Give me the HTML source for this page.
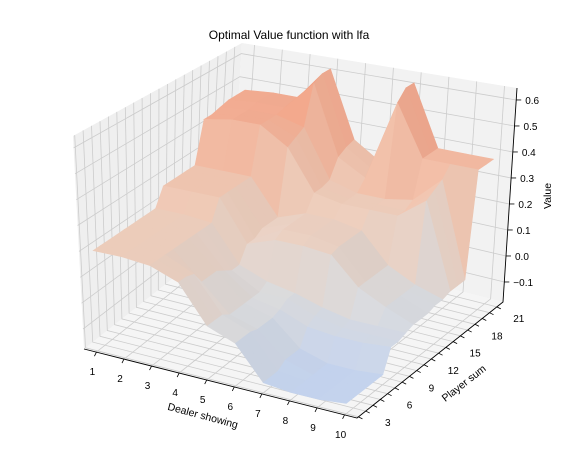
<!DOCTYPE html>
<html><head><meta charset="utf-8"><style>
body{margin:0;background:#fff;}
svg{display:block;font-family:"Liberation Sans","DejaVu Sans",sans-serif;}
</style></head><body>
<svg id="chart" width="579" height="456" viewBox="0 0 579 456" xmlns="http://www.w3.org/2000/svg">
<text x="289" y="39" text-anchor="middle" font-size="12">Optimal Value function with lfa</text>
<g id="panes"></g>
<g id="surface"></g>
<g id="axes"></g>
<text x="202" y="419" text-anchor="middle" font-size="10.5" transform="rotate(15 202 419)">Dealer showing</text>
<text x="466" y="386" text-anchor="middle" font-size="10.5" transform="rotate(-38 466 386)">Player sum</text>
<text x="551" y="196" text-anchor="middle" font-size="10.5" transform="rotate(-90 551 196)">Value</text>
</svg>
<script>
const dealerValues = [1,2,3,4,5,6,7,8,9,10];
const playerValues = [2,3,4,5,6,7,8,9,10,11,12,13,14,15,16,17,18,19,20,21];
const dealerTicks = [1,2,3,4,5,6,7,8,9,10];
const playerTicks = [3,6,9,12,15,18,21];
const zTicks = [-0.1,0.0,0.1,0.2,0.3,0.4,0.5,0.6];
const valueGrid = [
[0.21,0.21,0.20,0.16,0.02,-0.02,-0.14,-0.15,-0.15,-0.14],
[0.21,0.21,0.20,0.16,0.02,-0.02,-0.14,-0.15,-0.15,-0.14],
[0.21,0.21,0.20,0.15,0.02,-0.02,-0.14,-0.15,-0.15,-0.14],
[0.21,0.21,0.20,0.10,0.00,-0.03,-0.12,-0.15,-0.15,-0.14],
[0.21,0.21,0.20,0.10,0.00,-0.03,-0.12,-0.15,-0.15,-0.14],
[0.21,0.21,0.20,0.10,0.00,-0.03,-0.12,-0.15,-0.15,-0.14],
[0.21,0.21,0.20,0.08,0.00,-0.02,-0.06,-0.07,-0.07,-0.06],
[0.21,0.21,0.20,0.06,0.00,0.00,-0.04,-0.06,-0.06,-0.06],
[0.21,0.21,0.20,0.06,0.02,0.00,-0.03,-0.05,-0.05,-0.05],
[0.28,0.28,0.28,0.12,0.16,0.16,0.15,0.05,0.00,-0.04],
[0.28,0.28,0.28,0.12,0.18,0.18,0.16,0.05,0.00,-0.04],
[0.28,0.28,0.28,0.14,0.18,0.18,0.16,0.05,0.00,-0.04],
[0.28,0.28,0.28,0.14,0.18,0.18,0.16,0.05,0.00,-0.03],
[0.28,0.28,0.28,0.14,0.18,0.18,0.16,0.05,0.00,-0.03],
[0.45,0.47,0.47,0.40,0.24,0.22,0.22,0.22,0.30,-0.02],
[0.45,0.47,0.47,0.42,0.24,0.22,0.22,0.22,0.32,-0.02],
[0.46,0.47,0.47,0.44,0.25,0.22,0.22,0.24,0.34,-0.02],
[0.47,0.48,0.48,0.60,0.32,0.26,0.58,0.38,0.38,0.38],
[0.47,0.48,0.48,0.62,0.34,0.27,0.62,0.38,0.38,0.38],
[0.47,0.48,0.48,0.62,0.35,0.28,0.62,0.38,0.38,0.38]
];

const NS="http://www.w3.org/2000/svg";
const X0=0.55,X1=10.45,Y0=1.8,Y1=21.85,Z0=-0.177,Z1=0.646;
const C={b00:[84,349],b10:[357,418],b11:[503,302],b01:[230,233],t00:[73,136],t10:[362,188],t11:[517,88],t01:[242,43]};
function lerp(a,b,t){return [a[0]+(b[0]-a[0])*t,a[1]+(b[1]-a[1])*t];}
function projN(u,v,w){
  const b=lerp(lerp(C.b00,C.b10,u),lerp(C.b01,C.b11,u),v);
  const t=lerp(lerp(C.t00,C.t10,u),lerp(C.t01,C.t11,u),v);
  return lerp(b,t,w);
}
function xs(d){return (d-X0)/(X1-X0);}
function ys(p){return (p-Y0)/(Y1-Y0);}
function zs(z){return (z-Z0)/(Z1-Z0);}
function mk(tag,attrs,parent){const e=document.createElementNS(NS,tag);for(const k in attrs)e.setAttribute(k,attrs[k]);parent.appendChild(e);return e;}
function pts(a){return a.map(q=>q[0].toFixed(1)+","+q[1].toFixed(1)).join(" ");}

const panes=document.getElementById('panes');
let el;
el=mk('polygon',{points:pts([projN(0,0,0),projN(1,0,0),projN(1,1,0),projN(0,1,0)]),fill:'#f5f5f5'},panes);

el=mk('polygon',{points:pts([projN(0,0,0),projN(0,1,0),projN(0,1,1),projN(0,0,1)]),fill:'#efefef'},panes);

el=mk('polygon',{points:pts([projN(0,1,0),projN(1,1,0),projN(1,1,1),projN(0,1,1)]),fill:'#f2f2f2'},panes);

const gs={stroke:'#cccccc','stroke-width':0.8};
for(const d of dealerTicks){
  const u=xs(d);
  el=mk('polyline',Object.assign({points:pts([projN(u,0,0),projN(u,1,0),projN(u,1,1)]),fill:'none'},gs),panes);
  
}
for(let p=2;p<=21;p++){
  const v=ys(p);
  el=mk('polyline',Object.assign({points:pts([projN(1,v,0),projN(0,v,0),projN(0,v,1)]),fill:'none'},gs),panes);
  
}
for(const z of zTicks){
  const w=zs(z);
  el=mk('polyline',Object.assign({points:pts([projN(0,0,w),projN(0,1,w),projN(1,1,w)]),fill:'none'},gs),panes);
  
}

function cmap(z){
  const stops=[[-0.16,[196,213,242]],[0.0,[222,222,224]],[0.2,[240,208,190]],[0.4,[246,184,158]],[0.62,[242,150,120]]];
  if(z<=stops[0][0])return stops[0][1];
  for(let i=1;i<stops.length;i++){if(z<=stops[i][0]){const t=(z-stops[i-1][0])/(stops[i][0]-stops[i-1][0]);return stops[i-1][1].map((c,k)=>c+(stops[i][1][k]-c)*t);}}
  return stops[stops.length-1][1];
}
const surf=document.getElementById('surface');
const quads=[];
for(let pi=0;pi<playerValues.length-1;pi++){
  for(let di=0;di<dealerValues.length-1;di++){
    quads.push({pi,di,key:di/9+(playerValues.length-2-pi)/(playerValues.length-1)});
  }
}
quads.sort((a,b)=>a.key-b.key);
for(const q of quads){
  const {pi,di}=q;
  const c=[[di,pi],[di+1,pi],[di+1,pi+1],[di,pi+1]].map(([a,b])=>[xs(dealerValues[a]),ys(playerValues[b]),zs(valueGrid[b][a])]);
  const P=c.map(k=>projN(k[0],k[1],k[2]));
  const zAvg=(valueGrid[pi][di]+valueGrid[pi][di+1]+valueGrid[pi+1][di+1]+valueGrid[pi+1][di])/4;
  const e1=[c[2][0]-c[0][0],c[2][1]-c[0][1],(c[2][2]-c[0][2])*0.9];
  const e2=[c[3][0]-c[1][0],c[3][1]-c[1][1],(c[3][2]-c[1][2])*0.9];
  let n=[e1[1]*e2[2]-e1[2]*e2[1],e1[2]*e2[0]-e1[0]*e2[2],e1[0]*e2[1]-e1[1]*e2[0]];
  const L=Math.hypot(...n)||1;n=n.map(x=>x/L);
  const light=[-0.5,-0.6,0.62];
  const dot=Math.abs(n[0]*light[0]+n[1]*light[1]+n[2]*light[2]);
  const s=0.9+0.1*dot;
  const col=cmap(zAvg).map(x=>Math.min(255,Math.round(x*s+255*(1-s)*0.5)));
  const fill='rgb('+col.join(',')+')';
  el=mk('polygon',{points:pts(P),fill:fill,stroke:fill,'stroke-width':0.6},surf);
  
  
}

const axes=document.getElementById('axes');
el=mk('polyline',{points:pts([projN(0,0,0),projN(1,0,0),projN(1,1,0),projN(1,1,1)]),fill:'none',stroke:'#000','stroke-width':0.9},axes);

for(const d of dealerTicks){
  const a=projN(xs(d),0,0);
  el=mk('line',{x1:a[0],y1:a[1],x2:a[0]-2,y2:a[1]+4,stroke:'#000','stroke-width':0.8},axes);
  
  el=mk('text',{x:a[0]-4,y:a[1]+23,'text-anchor':'middle','font-size':10},axes);
  el.textContent=d;
  
}
for(let p=2;p<=21;p++){
  const a=projN(1,ys(p),0);
  el=mk('line',{x1:a[0],y1:a[1],x2:a[0]+4,y2:a[1]+2,stroke:'#000','stroke-width':0.8},axes);
  
}
for(const p of playerTicks){
  const a=projN(1,ys(p),0);
  el=mk('text',{x:a[0]+22,y:a[1]+15,'text-anchor':'middle','font-size':10},axes);
  el.textContent=p;
  
}
for(const z of zTicks){
  const a=projN(1,1,zs(z));
  el=mk('line',{x1:a[0],y1:a[1],x2:a[0]+5,y2:a[1],stroke:'#000','stroke-width':0.8},axes);
  
  el=mk('text',{x:a[0]+9,y:a[1]+4,'font-size':10},axes);
  el.textContent=(z<0?'\u2212':'')+Math.abs(z).toFixed(1);
  
}
</script>
</body></html>
